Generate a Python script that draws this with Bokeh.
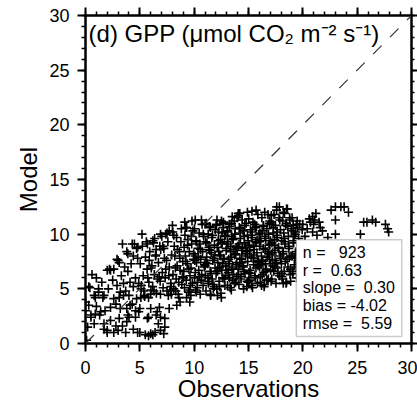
from bokeh.plotting import figure
from bokeh.models import (LinearAxis, SingleIntervalTicker, BoxAnnotation, Label,
                          Range1d, Slope, ColumnDataSource, CustomJSTickFormatter)
from bokeh.embed import file_html
from bokeh.resources import INLINE

# ---------------- data ----------------
obs_low = [0.3, 1.2, 2.1, 0.8, 1.7, 2.6, 3.1, 3.5,
           0.3, 0.0, 0.5, 0.9, 1.4, 1.8, 2.3, 2.8, 3.2, 3.8, 4.1,
           0.2, 0.8, 1.7, 2.0, 2.6, 2.3, 3.1, 3.4, 3.8, 4.4, 3.7,
           5.0, 5.5, 6.0, 6.4, 6.9, 6.7, 5.8, 6.6, 6.9, 7.2,
           4.9, 5.0, 4.6, 4.0,
           4.3, 4.7, 3.7, 4.4, 5.4, 5.8, 6.3, 6.9, 7.5, 8.4, 8.7, 9.3,
           0.1, 5.8, 6.2, 0.0, 1.0,
           2.0, 2.3, 2.6, 2.9, 3.1, 3.4, 4.3, 4.7, 3.8,
           0.4, 0.9, 1.6, 5.1, 6.0, 7.9, 8.6, 9.7,
           4.6, 6.0, 6.8, 7.7,
           0.5, 1.3, 3.9, 5.7, 6.5, 7.3,
           1.7, 2.8, 4.8, 7.3,
           2.0, 3.0,
           1.0, 1.5, 2.5, 3.3, 3.9, 4.2, 4.6, 4.1, 3.5, 2.9, 4.8, 4.4, 3.6, 1.2, 0.6,
           4.0, 4.9, 3.2]
model_low = [5.2, 5.0, 5.0, 4.4, 4.4, 4.1, 4.2, 4.4,
             3.5, 3.0, 2.6, 2.7, 2.9, 3.0, 3.3, 3.6, 3.2, 3.2, 3.5,
             1.5, 1.8, 1.8, 1.2, 1.0, 2.1, 2.3, 1.6, 2.0, 1.3, 1.0,
             1.0, 0.8, 0.9, 1.0, 1.2, 1.8, 2.4, 2.9, 2.4, 0.9,
             2.9, 3.2, 2.4, 2.4,
             3.6, 4.1, 4.8, 5.2, 4.4, 4.2, 4.8, 4.5, 4.8, 3.5, 3.8, 4.2,
             0.3, 0.7, 0.8, 3.8, 3.4,
             6.7, 6.7, 6.8, 7.7, 7.4, 9.1, 9.1, 8.7, 8.4,
             5.1, 4.2, 4.2, 4.2, 4.5, 4.5, 4.2, 4.4,
             3.0, 3.2, 3.3, 3.2,
             2.4, 2.6, 2.6, 2.3, 2.6, 2.3,
             1.3, 1.6, 1.0, 1.5,
             1.0, 1.2,
             6.0, 5.6, 5.8, 6.2, 6.6, 7.3, 6.0, 5.6, 5.5, 5.3, 7.8, 8.0, 7.0, 4.7, 6.3,
             4.4, 5.5, 4.7]

obs_core = [
    5.45, 5.12, 5.83, 5.31, 5.67, 5.04, 5.52, 5.91, 5.23, 5.74, 5.38, 5.86, 5.15, 5.6,
    6.52, 6.18, 6.87, 6.33, 6.05, 6.71, 6.44, 6.92, 6.26, 6.63, 6.11, 6.79, 6.48, 6.02, 6.36, 6.84,
    7.62, 7.14, 7.85, 7.33, 7.07, 7.71, 7.46, 7.93, 7.21, 7.58, 7.02, 7.39, 7.88, 7.26, 7.67,
    7.11, 7.5, 7.8,
    8.53, 8.12, 8.86, 8.34, 8.05, 8.71, 8.43, 8.95, 8.22, 8.64, 8.17, 8.78, 8.38, 8.03, 8.58,
    8.91, 8.27, 8.69, 8.46, 8.13, 8.82, 8.31,
    9.48, 9.11, 9.83, 9.27, 9.62, 9.04, 9.71, 9.36, 9.93, 9.19, 9.55, 9.08, 9.77, 9.42, 9.15,
    9.88, 9.31, 9.66, 9.02, 9.51, 9.24, 9.96, 9.39, 9.73, 9.13, 9.58,
    10.56, 10.13, 10.82, 10.31, 10.04, 10.69, 10.42, 10.93, 10.22, 10.61, 10.08, 10.77, 10.35,
    10.52, 10.17, 10.88, 10.46, 10.03, 10.73, 10.28, 10.64, 10.11, 10.95, 10.39, 10.58, 10.21,
    10.84, 10.47, 10.06, 10.67,
    11.52, 11.09, 11.84, 11.31, 11.66, 11.03, 11.47, 11.92, 11.24, 11.71, 11.15, 11.58, 11.38,
    11.87, 11.06, 11.63, 11.29, 11.95, 11.41, 11.12, 11.76, 11.34, 11.55, 11.01, 11.82, 11.45,
    11.18, 11.69, 11.27, 11.91, 11.49, 11.08, 11.73, 11.36,
    12.47, 12.08, 12.83, 12.29, 12.64, 12.02, 12.55, 12.91, 12.18, 12.73, 12.36, 12.95, 12.12,
    12.58, 12.41, 12.86, 12.24, 12.69, 12.05, 12.51, 12.33, 12.78, 12.15, 12.62, 12.44, 12.97,
    12.21, 12.56, 12.03, 12.88, 12.38, 12.71, 12.26, 12.49, 12.81, 12.14, 12.66, 12.31,
    13.42, 13.07, 13.81, 13.26, 13.63, 13.01, 13.54, 13.92, 13.18, 13.72, 13.35, 13.88, 13.11,
    13.57, 13.46, 13.03, 13.77, 13.22, 13.68, 13.95, 13.31, 13.52, 13.14, 13.86, 13.39, 13.61,
    13.05, 13.74, 13.27, 13.91, 13.48, 13.16, 13.83, 13.36, 13.59, 13.09, 13.7, 13.24, 13.97,
    13.44,
    14.55, 14.12, 14.87, 14.33, 14.68, 14.04, 14.47, 14.93, 14.21, 14.76, 14.38, 14.02, 14.63,
    14.26, 14.91, 14.51, 14.15, 14.79, 14.42, 14.07, 14.84, 14.31, 14.58, 14.19, 14.72, 14.45,
    14.96, 14.23, 14.66, 14.09, 14.53, 14.36, 14.88, 14.13, 14.61, 14.28, 14.95, 14.41, 14.74,
    14.06,
    15.37, 15.82, 15.13, 15.58, 15.04, 15.69, 15.46, 15.91, 15.24, 15.77, 15.52, 15.09, 15.66,
    15.33, 15.97, 15.18, 15.73, 15.41, 15.02, 15.86, 15.29, 15.61, 15.15, 15.94, 15.48, 15.07,
    15.79, 15.35, 15.56, 15.21, 15.88, 15.43, 15.11, 15.71, 15.26, 15.64, 15.03, 15.84, 15.5,
    15.32,
    16.44, 16.09, 16.83, 16.27, 16.62, 16.02, 16.56, 16.91, 16.19, 16.74, 16.35, 16.88, 16.13,
    16.51, 16.06, 16.69, 16.38, 16.95, 16.23, 16.79, 16.47, 16.11, 16.65, 16.32, 16.86, 16.04,
    16.58, 16.26, 16.92, 16.41, 16.17, 16.72, 16.54, 16.01, 16.84, 16.36, 16.67, 16.22, 16.97,
    16.49,
    17.53, 17.14, 17.86, 17.32, 17.67, 17.05, 17.44, 17.91, 17.21, 17.74, 17.38, 17.02, 17.62,
    17.27, 17.94, 17.48, 17.11, 17.81, 17.35, 17.58, 17.08, 17.71, 17.24, 17.96, 17.43, 17.16,
    17.65, 17.3, 17.88, 17.04, 17.56, 17.19, 17.77, 17.41, 17.63, 17.12, 17.84, 17.47,
    18.46, 18.11, 18.82, 18.28, 18.63, 18.03, 18.54, 18.91, 18.19, 18.72, 18.35, 18.06, 18.67,
    18.24, 18.94, 18.42, 18.13, 18.78, 18.31, 18.58, 18.08, 18.86, 18.38, 18.16, 18.69, 18.27,
    18.97, 18.49, 18.04, 18.75, 18.33, 18.61, 18.21, 18.88,
    19.43, 19.08, 19.74, 19.22, 19.56, 19.03, 19.37, 19.85, 19.15, 19.62, 19.28, 19.94, 19.11,
    19.48, 19.05, 19.69, 19.33, 19.79, 19.18, 19.52, 19.01, 19.41, 19.26, 19.65, 19.12, 19.35,
]
model_core = [
    4.3, 5.0, 5.6, 6.2, 6.8, 7.3, 7.9, 8.4, 8.9, 6.0, 4.8, 7.6, 5.3, 9.3,
    4.6, 5.2, 5.7, 6.3, 6.9, 7.4, 8.0, 8.6, 9.2, 5.9, 7.1, 6.1, 8.1, 4.9, 9.6, 8.9,
    4.4, 5.1, 5.5, 6.0, 6.5, 7.0, 7.6, 8.1, 8.7, 9.3, 9.8, 6.8, 5.2, 7.8, 6.2,
    8.9, 10.1, 4.9,
    4.5, 5.0, 5.4, 5.9, 6.3, 6.7, 7.1, 7.5, 8.0, 8.4, 8.9, 9.3, 9.7, 10.2, 5.6,
    6.1, 6.9, 7.8, 8.6, 9.9, 10.5, 4.8,
    4.7, 5.1, 5.5, 5.8, 6.2, 6.6, 6.9, 7.3, 7.7, 8.0, 8.4, 8.8, 9.1, 9.5, 9.9,
    10.3, 10.6, 5.3, 6.0, 6.8, 7.5, 8.2, 9.0, 9.8, 11.1, 4.9,
    4.5, 4.9, 5.3, 5.6, 6.0, 6.3, 6.7, 7.0, 7.4, 7.7, 8.0, 8.4, 8.7,
    9.1, 9.4, 9.8, 10.1, 10.5, 10.9, 5.1, 5.8, 6.5, 7.2, 7.9, 8.6, 9.3,
    10.0, 6.1, 7.6, 11.3,
    4.4, 4.8, 5.2, 5.5, 5.9, 6.2, 6.6, 6.9, 7.3, 7.6, 7.9, 8.3, 8.6,
    9.0, 9.3, 9.7, 10.0, 10.4, 10.7, 11.0, 5.0, 5.7, 6.4, 7.1, 7.8, 8.5,
    9.2, 9.9, 6.0, 8.1, 10.6, 7.4, 5.4, 8.8,
    4.6, 5.0, 5.3, 5.7, 6.0, 6.4, 6.7, 7.1, 7.4, 7.8, 8.1, 8.5, 8.8,
    9.2, 9.5, 9.9, 10.2, 10.6, 10.9, 11.2, 5.2, 5.9, 6.6, 7.3, 8.0, 8.7,
    9.4, 10.1, 10.8, 6.2, 7.0, 7.7, 8.4, 9.1, 9.8, 4.4, 11.0, 6.9,
    4.9, 5.3, 5.6, 6.0, 6.3, 6.7, 7.0, 7.4, 7.7, 8.1, 8.4, 8.8, 9.1,
    9.5, 9.8, 10.2, 10.5, 10.9, 11.2, 11.5, 5.1, 5.8, 6.5, 7.2, 7.9, 8.6,
    9.3, 10.0, 10.7, 6.1, 6.8, 7.5, 8.2, 8.9, 9.6, 10.3, 5.5, 7.3, 8.7,
    11.0,
    5.0, 5.4, 5.7, 6.1, 6.4, 6.8, 7.1, 7.5, 7.8, 8.2, 8.5, 8.9, 9.2,
    9.6, 9.9, 10.3, 10.6, 11.0, 11.3, 11.7, 5.2, 5.9, 6.6, 7.3, 8.0, 8.7,
    9.4, 10.1, 10.8, 6.3, 7.0, 7.7, 8.4, 9.1, 9.8, 10.5, 5.6, 7.4, 8.8,
    11.9,
    5.1, 5.5, 5.8, 6.2, 6.5, 6.9, 7.2, 7.6, 7.9, 8.3, 8.6, 9.0, 9.3,
    9.7, 10.0, 10.4, 10.7, 11.1, 11.4, 11.8, 5.3, 6.0, 6.7, 7.4, 8.1, 8.8,
    9.5, 10.2, 10.9, 6.4, 7.1, 7.8, 8.5, 9.2, 9.9, 10.6, 5.7, 7.5, 8.9,
    12.1,
    5.2, 5.6, 5.9, 6.3, 6.6, 7.0, 7.3, 7.7, 8.0, 8.4, 8.7, 9.1, 9.4,
    9.8, 10.1, 10.5, 10.8, 11.2, 11.5, 11.8, 5.4, 6.1, 6.8, 7.5, 8.2, 8.9,
    9.6, 10.3, 11.0, 6.5, 7.2, 7.9, 8.6, 9.3, 10.0, 10.7, 5.8, 7.6, 9.0,
    12.0,
    5.5, 5.9, 6.2, 6.6, 6.9, 7.3, 7.6, 8.0, 8.3, 8.7, 9.0, 9.4, 9.7,
    10.1, 10.4, 10.8, 11.1, 11.5, 11.8, 12.2, 5.7, 6.4, 7.1, 7.8, 8.5, 9.2,
    9.9, 10.6, 11.3, 6.7, 7.4, 8.1, 8.8, 9.5, 10.2, 10.9, 12.5, 7.0,
    5.5, 5.9, 6.3, 6.6, 7.0, 7.3, 7.7, 8.0, 8.4, 8.7, 9.1, 9.4, 9.8,
    10.1, 10.5, 10.8, 11.2, 11.5, 11.9, 12.3, 6.1, 6.8, 7.5, 8.2, 8.9, 9.6,
    10.3, 11.0, 6.4, 7.9, 9.3, 10.7, 12.0, 5.7,
    6.0, 6.4, 6.8, 7.2, 7.6, 8.0, 8.4, 8.8, 9.2, 9.6, 10.0, 10.4, 10.8,
    11.2, 6.6, 7.4, 8.2, 9.0, 9.8, 10.6, 11.5, 7.0, 7.8, 8.6, 9.4, 10.2,
]

obs_right = [19.7, 20.0, 20.6, 20.9, 21.2, 20.7, 21.0, 21.5, 21.6, 20.9,
             21.8, 21.3, 22.3, 22.6, 23.0, 23.5, 23.8, 24.2, 23.0, 23.0,
             25.3, 25.6, 25.9, 26.4, 26.7, 27.6, 27.8, 27.9, 20.4, 21.1, 20.2]
model_right = [10.9, 10.9, 11.4, 11.6, 11.9, 11.1, 10.9, 11.1, 10.6, 10.2,
               10.3, 9.9, 9.7, 12.2, 12.5, 12.5, 12.5, 12.0, 11.3, 10.0,
               10.0, 11.1, 11.1, 11.3, 11.1, 10.9, 10.5, 10.2, 10.5, 11.3, 9.8]

obs_edge = [5.2, 8.0, 7.7, 7.4, 6.9, 9.2, 9.8, 4.5, 4.8, 3.9, 5.7, 6.2, 6.5, 3.0, 2.2,
            17.6, 18.5, 15.7, 14.9, 14.2, 13.5, 12.7, 12.1, 10.1, 11.0, 17.1, 18.8, 19.4,
            12.5, 16.2, 16.7, 18.5, 18.2, 9.6, 11.5, 10.2]
model_edge = [10.0, 10.8, 10.3, 10.0, 10.0, 10.6, 11.2, 9.1, 8.8, 8.2, 9.1, 9.4, 8.6, 7.6, 6.8,
              12.5, 12.3, 12.2, 12.0, 11.9, 11.6, 11.1, 11.3, 11.3, 10.9, 11.7, 11.3, 10.9,
              4.2, 5.3, 5.8, 5.6, 5.5, 3.8, 4.5, 4.7]

stat_names = ["n", "r", "slope", "bias", "rmse"]
stat_values = ["923", "0.63", "0.30", "-4.02", "5.59"]
stat_pad = ["\u00a0\u00a0", "\u00a0", "\u00a0", "", "\u00a0"]

title_text = "(d) GPP (\u03bcmol CO\u2082 m\u207b\u00b2 s\u207b\u00b9)"
x_label = "Observations"
y_label = "Model"

# ---------------- figure ----------------
FONT = "Liberation Sans"
obs = obs_low + obs_core + obs_right + obs_edge
model = model_low + model_core + model_right + model_edge
src = ColumnDataSource(data=dict(obs=obs, model=model))

p = figure(width=417, height=405, x_range=Range1d(0, 30), y_range=Range1d(0, 30),
           output_backend="svg", toolbar_location=None,
           min_border_left=85, min_border_right=6, min_border_top=15, min_border_bottom=62,
           x_axis_label=x_label, y_axis_label=y_label)
p.grid.visible = False
p.outline_line_color = "black"
p.outline_line_width = 2
p.background_fill_color = "white"
p.border_fill_color = "white"

p.scatter("obs", "model", source=src, marker="cross", size=9, line_width=1.6,
          line_color="black")

p.add_layout(Slope(gradient=1, y_intercept=0, line_color="#333333", line_width=1.2,
                   line_dash="12 12"))


def style_axis(ax, tick_out, minor_out, show_labels=True):
    ax.ticker = SingleIntervalTicker(interval=5, num_minor_ticks=5)
    ax.major_tick_in = 0
    ax.major_tick_out = tick_out
    ax.minor_tick_in = 0
    ax.minor_tick_out = minor_out
    ax.axis_line_width = 2
    ax.axis_line_color = "black"
    ax.major_tick_line_width = 2
    ax.minor_tick_line_width = 1.5
    ax.major_tick_line_color = "black"
    ax.minor_tick_line_color = "black"
    ax.major_label_text_font = FONT
    ax.major_label_text_color = "black"
    if show_labels:
        ax.major_label_text_font_size = "18px"
        ax.major_label_standoff = 7
    else:
        ax.formatter = CustomJSTickFormatter(code="return ''")
        ax.major_label_text_font_size = "0px"
        ax.major_label_standoff = 0
    ax.axis_label_text_font = FONT
    ax.axis_label_text_font_size = "24px"
    ax.axis_label_text_font_style = "normal"
    ax.axis_label_text_color = "black"


style_axis(p.xaxis[0], 8, 4)
style_axis(p.yaxis[0], 8, 4)
p.xaxis[0].major_label_standoff = 9
p.xaxis[0].axis_label_standoff = -2
p.yaxis[0].axis_label_standoff = 4
p.yaxis[0].major_label_standoff = 8

top_ax = LinearAxis()
style_axis(top_ax, 8, 4, show_labels=False)
p.add_layout(top_ax, "above")
right_ax = LinearAxis()
style_axis(right_ax, 6, 3, show_labels=False)
p.add_layout(right_ax, "right")

# statistics box
p.add_layout(BoxAnnotation(left=19.4, right=29.1, bottom=0.65, top=9.5,
                           fill_color="white", fill_alpha=1.0,
                           line_color="#555555", line_width=1.5, level="overlay"))
stat_y = [8.33, 6.72, 5.12, 3.48, 1.83]
for nm, val, pad, yy in zip(stat_names, stat_values, stat_pad, stat_y):
    p.add_layout(Label(x=20.0, y=yy, text=f"{nm} = {pad}{val}", text_font=FONT,
                       text_font_size="16px", text_baseline="middle", text_color="black",
                       level="overlay"))

# panel title
p.add_layout(Label(x=0.28, y=28.35, text=title_text, text_font=FONT,
                   text_font_size="24px", text_baseline="alphabetic", text_color="black"))

open("out.html", "w").write(file_html(p, INLINE))
